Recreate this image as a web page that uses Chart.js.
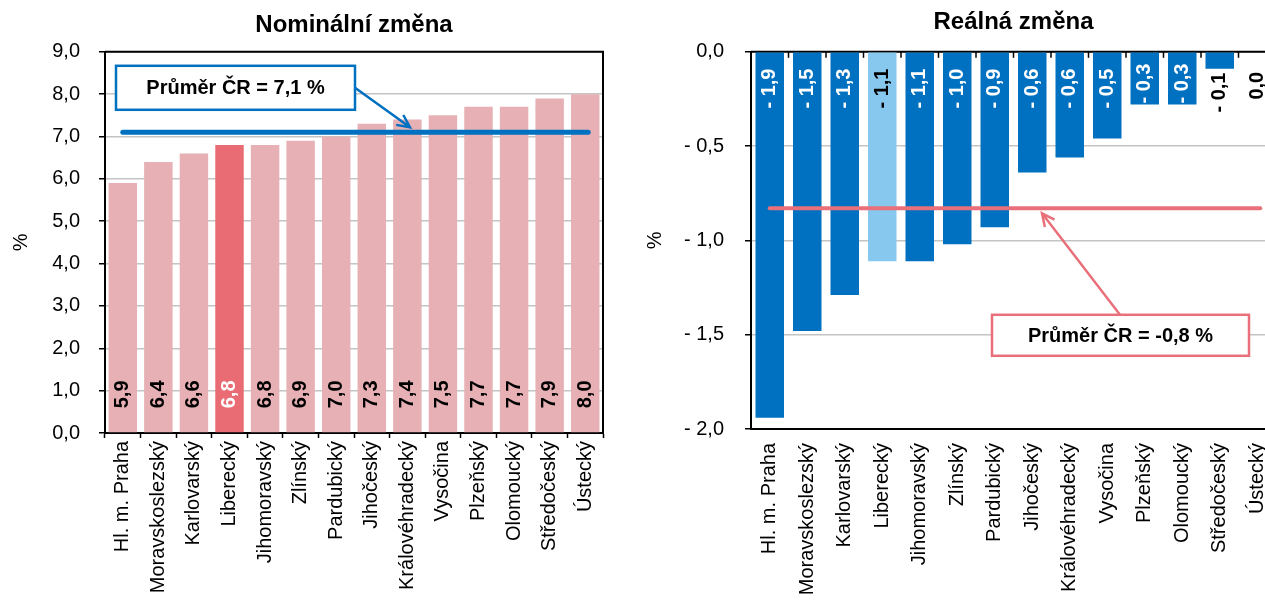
<!DOCTYPE html>
<html>
<head>
<meta charset="utf-8">
<script src="https://cdn.jsdelivr.net/npm/chart.js@4/dist/chart.umd.min.js"></script>
<style>
html, body { margin: 0; padding: 0; background: #fff; overflow: hidden; width: 1265px; height: 605px; }
.box { position: absolute; top: 0; height: 605px; }
#boxNominal { left: 0; width: 630px; }
#boxReal { left: 630px; width: 650px; }
</style>
</head>
<body>
<div class="box" id="boxNominal"><canvas id="nominal" width="630" height="605"></canvas></div>
<div class="box" id="boxReal"><canvas id="real" width="650" height="605"></canvas></div>
<script>
// data
const regions = ['Hl. m. Praha', 'Moravskoslezský', 'Karlovarský', 'Liberecký', 'Jihomoravský', 'Zlínský',
  'Pardubický', 'Jihočeský', 'Královéhradecký', 'Vysočina', 'Plzeňský', 'Olomoucký', 'Středočeský', 'Ústecký'];
const nominalChange = [5.9, 6.4, 6.6, 6.8, 6.8, 6.9, 7.0, 7.3, 7.4, 7.5, 7.7, 7.7, 7.9, 8.0];
const realChange = [-1.94, -1.48, -1.29, -1.11, -1.11, -1.02, -0.93, -0.64, -0.56, -0.46, -0.28, -0.28, -0.09, 0.0];
const nominalAvg = 7.1;
const realAvg = -0.83;
const nominalTicks = [0, 1, 2, 3, 4, 5, 6, 7, 8, 9];
const realTicks = [-2, -1.5, -1, -0.5, 0];
const highlight = 'Liberecký';

Chart.defaults.font.family = "'Liberation Sans', Arial, sans-serif";
Chart.defaults.color = '#000';

const fmt = v => v.toFixed(1).replace('.', ',');
const round1 = v => Math.round(v * 10) / 10;
const fmtNeg = v => { const r = round1(v); return r < 0 ? '- ' + fmt(-r) : fmt(Math.abs(r)); };

// bar value labels, rotated
const barLabels = {
  id: 'barLabels',
  afterDatasetsDraw(chart, args, opts) {
    const ctx = chart.ctx;
    const meta = chart.getDatasetMeta(0);
    const values = chart.data.datasets[0].data;
    ctx.save();
    ctx.font = 'bold 20px ' + Chart.defaults.font.family;
    ctx.textBaseline = 'middle';
    meta.data.forEach((bar, i) => {
      const p = bar.getProps(['x', 'base'], true);
      ctx.save();
      ctx.fillStyle = opts.colors[i];
      if (opts.mode === 'bottom') {
        ctx.translate(p.x, p.base - 24);
        ctx.rotate(-Math.PI / 2);
        ctx.textAlign = 'left';
        ctx.fillText(fmt(values[i]), 0, 0);
      } else {
        ctx.translate(p.x, p.base + opts.offsets[i]);
        ctx.rotate(-Math.PI / 2);
        ctx.textAlign = 'right';
        ctx.fillText(fmtNeg(values[i]), 0, 0);
      }
      ctx.restore();
    });
    ctx.restore();
  }
};

// frame lines and ticks
const frame = {
  id: 'frame',
  beforeDatasetsDraw(chart, args, opts) {
    const {ctx, chartArea: a} = chart;
    ctx.save();
    ctx.strokeStyle = '#000';
    ctx.lineWidth = 2;
    ctx.beginPath();
    ctx.moveTo(a.left, a.top);
    ctx.lineTo(a.right, a.top);
    if (opts.right) ctx.lineTo(a.right, a.bottom);
    ctx.stroke();
    if (opts.topTicks) {
      ctx.lineWidth = 1.5;
      const n = chart.data.labels.length;
      for (let i = 0; i <= n; i++) {
        const px = a.left + (a.right - a.left) * i / n;
        ctx.beginPath();
        ctx.moveTo(px, a.top);
        ctx.lineTo(px, a.top + 6);
        ctx.stroke();
      }
    }
    ctx.restore();
  }
};

// average line with callout box and arrow
const avgNote = {
  id: 'avgNote',
  afterDatasetsDraw(chart, args, o) {
    const {ctx, chartArea: a} = chart;
    const x = chart.scales.x, y = chart.scales.y;
    const ly = y.getPixelForValue(o.value);
    ctx.save();
    ctx.strokeStyle = o.color;
    ctx.lineCap = 'round';
    ctx.lineWidth = o.lineWidth;
    ctx.beginPath();
    ctx.moveTo(x.getPixelForValue(0), ly);
    ctx.lineTo(x.getPixelForValue(chart.data.labels.length - 1) + o.lineExtra, ly);
    ctx.stroke();

    // arrow
    const fx = a.left + o.from[0], fy = a.top + o.from[1];
    const tx = a.left + o.to[0], ty = ly + o.to[1];
    ctx.lineWidth = 2.5;
    ctx.lineCap = 'butt';
    ctx.beginPath();
    ctx.moveTo(fx, fy);
    ctx.lineTo(tx, ty);
    const ang = Math.atan2(ty - fy, tx - fx);
    const h = 14;
    ctx.moveTo(tx - h * Math.cos(ang - 0.45), ty - h * Math.sin(ang - 0.45));
    ctx.lineTo(tx, ty);
    ctx.lineTo(tx - h * Math.cos(ang + 0.45), ty - h * Math.sin(ang + 0.45));
    ctx.stroke();

    // box
    const bx = a.left + o.box[0], by = a.top + o.box[1];
    ctx.fillStyle = '#fff';
    ctx.fillRect(bx, by, o.box[2], o.box[3]);
    ctx.lineWidth = 2.5;
    ctx.strokeRect(bx, by, o.box[2], o.box[3]);
    const r = round1(o.value);
    ctx.fillStyle = '#000';
    ctx.font = 'bold 20px ' + Chart.defaults.font.family;
    ctx.textAlign = 'center';
    ctx.textBaseline = 'middle';
    ctx.fillText('Průměr ČR = ' + (r < 0 ? '-' : '') + fmt(Math.abs(r)) + ' %', bx + o.box[2] / 2, by + o.box[3] / 2 + 1);
    ctx.restore();
  }
};

const gridGrey = '#C4C4C4';

new Chart(document.getElementById('nominal').getContext('2d'), {
  type: 'bar',
  data: {
    labels: regions,
    datasets: [{
      data: nominalChange,
      backgroundColor: regions.map(r => r === highlight ? '#E96B73' : '#E6B0B4'),
      barPercentage: 0.8,
      categoryPercentage: 1
    }]
  },
  options: {
    responsive: false,
    animation: false,
    devicePixelRatio: 1,
    layout: { autoPadding: false, padding: { left: 0, right: 27, top: 0, bottom: 0 } },
    plugins: {
      legend: { display: false },
      tooltip: { enabled: false },
      title: {
        display: true, text: 'Nominální změna', fullSize: false,
        font: { size: 24, weight: 'bold' }, padding: { top: 11, bottom: 12 }, color: '#000'
      },
      barLabels: { mode: 'bottom', colors: regions.map(r => r === highlight ? '#fff' : '#000') },
      frame: { right: true },
      avgNote: {
        value: nominalAvg, color: '#0070C0', lineWidth: 5, lineExtra: 3,
        box: [11, 14, 239, 44], from: [250, 36], to: [305, -5]
      }
    },
    scales: {
      x: {
        grid: { drawOnChartArea: false, drawTicks: true, tickLength: 5, tickColor: '#000', tickWidth: 1.5 },
        border: { color: '#000', width: 2 },
        ticks: { minRotation: 90, maxRotation: 90, autoSkip: false, padding: 3, font: { size: 20 } },
        afterFit: s => { s.height = 172; }
      },
      y: {
        min: 0, max: 9,
        afterBuildTicks: s => { s.ticks = nominalTicks.map(v => ({ value: v })); },
        grid: { color: gridGrey, lineWidth: 1.5, tickLength: 6, tickColor: '#000', tickWidth: 1.5 },
        border: { color: '#000', width: 2 },
        ticks: { padding: 19, font: { size: 20 }, callback: v => fmt(v) },
        title: { display: true, text: '%', font: { size: 20 }, padding: { top: 9, bottom: 0 } },
        afterFit: s => { s.width = 105; }
      }
    }
  },
  plugins: [frame, barLabels, avgNote]
});

new Chart(document.getElementById('real').getContext('2d'), {
  type: 'bar',
  data: {
    labels: regions,
    datasets: [{
      data: realChange,
      backgroundColor: regions.map(r => r === highlight ? '#87C8EF' : '#0070C0'),
      barPercentage: 0.76,
      categoryPercentage: 1
    }]
  },
  options: {
    responsive: false,
    animation: false,
    devicePixelRatio: 1,
    layout: { autoPadding: false, padding: { left: 0, right: 4, top: 0, bottom: 0 } },
    plugins: {
      legend: { display: false },
      tooltip: { enabled: false },
      title: {
        display: true, text: 'Reálná změna', fullSize: false,
        font: { size: 24, weight: 'bold' }, padding: { top: 8, bottom: 15 }, color: '#000'
      },
      barLabels: {
        mode: 'top',
        colors: regions.map((r, i) => r === highlight || realChange[i] > -0.2 ? '#000' : '#fff'),
        offsets: realChange.map(v => v > -0.2 ? 20 : (v > -0.4 ? 11 : 16))
      },
      frame: { right: false, topTicks: true },
      avgNote: {
        value: realAvg, color: '#E9707A', lineWidth: 4, lineExtra: 3,
        box: [241, 263, 257, 41], from: [369, 263], to: [291, 5]
      }
    },
    scales: {
      x: {
        grid: { drawOnChartArea: false, drawTicks: false },
        border: { color: '#000', width: 2 },
        ticks: { minRotation: 90, maxRotation: 90, autoSkip: false, padding: 14, font: { size: 20 } },
        afterFit: s => { s.height = 176; s.paddingLeft = 0; s.paddingRight = 0; }
      },
      y: {
        min: -2, max: 0,
        afterBuildTicks: s => { s.ticks = realTicks.map(v => ({ value: v })); },
        grid: { color: gridGrey, lineWidth: 1.5, tickLength: 6, tickColor: '#000', tickWidth: 1.5 },
        border: { color: '#000', width: 2 },
        ticks: { padding: 21, font: { size: 20 }, callback: v => fmtNeg(v) },
        title: { display: true, text: '%', font: { size: 20 }, padding: { top: 13, bottom: 0 } },
        afterFit: s => { s.width = 121; }
      }
    }
  },
  plugins: [frame, barLabels, avgNote]
});
</script>
</body>
</html>
